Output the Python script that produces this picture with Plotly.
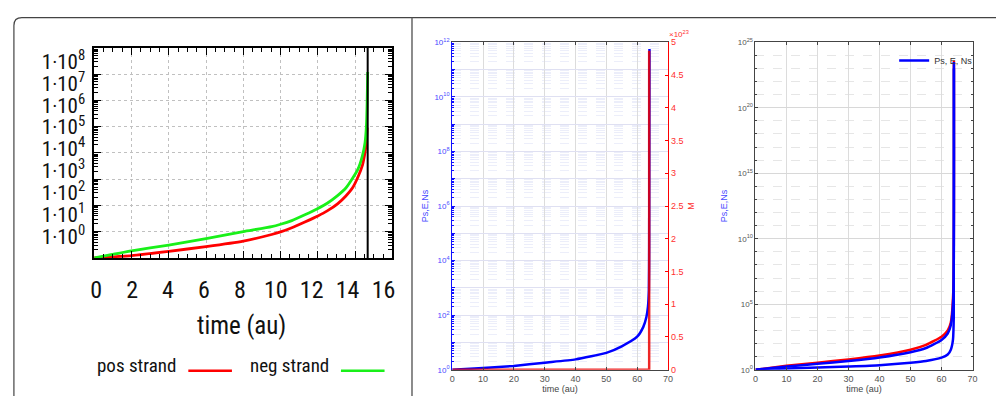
import plotly.graph_objects as go

W, H = 1001, 401

def px(x):
    return x / W

def py(y):
    return 1 - y / H

# ---------------- data ----------------
# left panel (gnuplot): time vs value (log10 of value)
left_t_pos = [0, 2, 4, 6, 8, 9.52, 10, 10.6, 11.3, 12, 12.5, 13.07, 13.5, 13.86,
              14.16, 14.39, 14.53, 14.6, 14.64]
left_pos_log10 = [0, 0.09, 0.25, 0.43, 0.64, 0.89, 0.99, 1.15, 1.37, 1.60, 1.79, 2.07,
                  2.36, 2.67, 3.10, 3.53, 4.03, 4.41, 4.96]
left_t_neg = [0, 2, 4, 6, 8, 9.52, 10, 10.6, 11.3, 12, 12.5, 13.07, 13.5, 13.86,
              14.16, 14.39, 14.53, 14.6, 14.64, 14.67]
left_neg_log10 = [0, 0.27, 0.49, 0.73, 1.0, 1.19, 1.28, 1.42, 1.64, 1.88, 2.08, 2.38,
                  2.66, 3.03, 3.40, 3.90, 4.40, 5.0, 5.9, 7.08]
left_asymptote_t = 14.67
left_xticks = [0, 2, 4, 6, 8, 10, 12, 14, 16]
left_yexp = [0, 1, 2, 3, 4, 5, 6, 7, 8]

# middle panel (MATLAB, two y axes)
mid_t = [0, 10, 20, 30, 40, 50, 55, 60, 62, 63, 63.5, 63.8, 63.9, 64.0]
mid_ps_log10 = [0, 0.06, 0.14, 0.26, 0.38, 0.62, 0.86, 1.21, 1.57, 1.93, 2.3, 2.9, 4.5, 11.75]
mid_m_t = [0, 63.9, 63.9]
mid_m_e23 = [0, 0, 4.87]

# right panel (MATLAB)
right_t = [0, 10, 20, 30, 40, 50, 55, 60, 62, 63, 63.8, 64.0]
right_red_log10 = [0, 0.3, 0.54, 0.79, 1.09, 1.53, 1.9, 2.52, 3.0, 3.6, 6.0, 23.6]
right_blue1_log10 = [0, 0.25, 0.45, 0.67, 0.94, 1.34, 1.66, 2.28, 2.77, 3.4, 5.5, 23.5]
right_t_low = [0, 10, 20, 30, 40, 50, 55, 60, 62, 63, 63.7, 63.95, 64.0]
right_blue2_log10 = [0, 0.1, 0.17, 0.25, 0.35, 0.54, 0.67, 0.92, 1.16, 1.53, 2.3, 4.0, 23.0]

NARROW = ("Liberation Sans Narrow, Roboto Condensed, DejaVu Sans Condensed, "
          "Liberation Sans, sans-serif")
SANS = "Liberation Sans, Arial, Helvetica, sans-serif"

def pw(v):
    return [10.0 ** e for e in v]

SMOOTH = dict(shape="spline", smoothing=0.5)

fig = go.Figure()

# ---------------- left panel ----------------
fig.add_trace(go.Scatter(x=left_t_pos, y=pw(left_pos_log10), mode="lines",
                         line=dict(color="#ff0000", width=2.8, **SMOOTH), xaxis="x", yaxis="y",
                         showlegend=False, name="pos strand"))
fig.add_trace(go.Scatter(x=left_t_neg, y=pw(left_neg_log10), mode="lines",
                         line=dict(color="#19f019", width=2.8, **SMOOTH), xaxis="x", yaxis="y",
                         showlegend=False, name="neg strand"))
fig.add_trace(go.Scatter(x=[left_asymptote_t, left_asymptote_t], y=[1.0, 1e8], mode="lines",
                         line=dict(color="black", width=2), xaxis="x", yaxis="y",
                         showlegend=False))
# dummy traces for label axes
fig.add_trace(go.Scatter(x=[None], y=[None], xaxis="x2", yaxis="y", showlegend=False, hoverinfo="skip"))
fig.add_trace(go.Scatter(x=[None], y=[None], xaxis="x", yaxis="y2", showlegend=False, hoverinfo="skip"))

# ---------------- middle panel ----------------
fig.add_trace(go.Scatter(x=mid_t, y=pw(mid_ps_log10), mode="lines",
                         line=dict(color="#0000ff", width=2.5, **SMOOTH), xaxis="x3", yaxis="y3",
                         showlegend=False))
fig.add_trace(go.Scatter(x=mid_m_t, y=mid_m_e23, mode="lines",
                         line=dict(color="rgba(235,0,0,0.85)", width=2.5), xaxis="x3", yaxis="y4",
                         showlegend=False))

# ---------------- right panel ----------------
fig.add_trace(go.Scatter(x=right_t, y=pw(right_red_log10), mode="lines",
                         line=dict(color="#ff0000", width=2.5, **SMOOTH), xaxis="x4", yaxis="y5",
                         showlegend=False))
fig.add_trace(go.Scatter(x=right_t, y=pw(right_blue1_log10), mode="lines",
                         line=dict(color="#0000ff", width=2.5, **SMOOTH), xaxis="x4", yaxis="y5",
                         name="Ps, E, Ns", showlegend=True))
fig.add_trace(go.Scatter(x=right_t_low, y=pw(right_blue2_log10), mode="lines",
                         line=dict(color="#0000ff", width=2.5, **SMOOTH), xaxis="x4", yaxis="y5",
                         showlegend=False))

left_xdom = [px(91), px(392)]
left_ydom = [py(259), py(43)]
mat_ydom = [py(374), py(37.3)]
mid_xdom = [px(452.3), px(670)]
right_xdom = [px(758.3), px(977.3)]

grid_dot = dict(showgrid=True, gridcolor="#c0c0c0", griddash="dot", gridwidth=1)

fig.update_layout(
    width=W, height=H, autosize=False,
    margin=dict(l=0, r=0, t=0, b=0),
    paper_bgcolor="white", plot_bgcolor="white",
    showlegend=True,
    # left panel main axes
    xaxis=dict(domain=left_xdom, anchor="y", range=[0, 16], dtick=2, tick0=0,
               showticklabels=False, showline=True, linecolor="black", linewidth=2,
               mirror="ticks", ticks="inside", ticklen=7, tickwidth=1.3, tickcolor="black",
               zeroline=False, minor=dict(dtick=0.5, ticks="inside", ticklen=4,
                                          tickcolor="black", showgrid=False),
               **grid_dot),
    yaxis=dict(domain=left_ydom, anchor="x", type="log", range=[0, 8], dtick=1,
               showticklabels=False, showline=True, linecolor="black", linewidth=2,
               mirror="ticks", ticks="inside", ticklen=7, tickwidth=1.3, tickcolor="black",
               zeroline=False, minor=dict(dtick="D1", ticks="inside", ticklen=4,
                                          tickcolor="black", showgrid=False),
               **grid_dot),
    # left panel label axes
    xaxis2=dict(overlaying="x", anchor="y", side="bottom", range=[-0.11, 16.5],
                tickvals=left_xticks, ticktext=[str(v) for v in left_xticks],
                showgrid=False, showline=False, zeroline=False, ticks="",
                ticklabelstandoff=15,
                tickfont=dict(family=NARROW, size=24, color="#111")),
    yaxis2=dict(overlaying="y", anchor="free", position=px(82), side="left",
                range=[-0.98, 8.62],
                tickvals=left_yexp, ticktext=[f"1·10<sup>{k}</sup>" for k in left_yexp],
                showgrid=False, showline=False, zeroline=False, ticks="",
                tickfont=dict(family=NARROW, size=21, color="#111")),
    # middle panel
    xaxis3=dict(domain=mid_xdom, anchor="y3", range=[0, 70], dtick=10, tick0=0,
                showline=True, linecolor="#444", linewidth=1, mirror="ticks",
                ticks="inside", ticklen=3, tickcolor="#444", zeroline=False,
                showgrid=True, gridcolor="#dcdcdc", gridwidth=1,
                tickfont=dict(family=SANS, size=9, color="#555"),
                title=dict(text="time (au)", standoff=3,
                           font=dict(family=SANS, size=9, color="#444"))),
    yaxis3=dict(domain=mat_ydom, anchor="x3", type="log", range=[0, 12],
                tickvals=[10.0 ** k for k in range(13)],
                ticktext=[f"10<sup>{k}</sup>" if k % 2 == 0 else " " for k in range(13)],
                showline=True, linecolor="#1010ff", linewidth=1.2,
                ticks="inside", ticklen=3, tickcolor="#1010ff", zeroline=False,
                showgrid=True, gridcolor="#dfe0f2", gridwidth=1,
                minor=dict(dtick="D1", ticks="inside", ticklen=2, tickcolor="#1010ff",
                           showgrid=True, gridcolor="#eceefa", griddash="dash"),
                tickfont=dict(family=SANS, size=8, color="#4848ff"),
                title=dict(text="Ps,E,Ns", standoff=4,
                           font=dict(family=SANS, size=9, color="#4848ff"))),
    yaxis4=dict(overlaying="y3", anchor="x3", side="right", range=[0, 5], dtick=0.5,
                tick0=0, showline=True, linecolor="#ff0000", linewidth=1.2,
                ticks="inside", ticklen=3, tickcolor="#ff0000", zeroline=False,
                showgrid=False,
                tickfont=dict(family=SANS, size=9, color="#ff3030"),
                title=dict(text="M", standoff=5,
                           font=dict(family=SANS, size=9, color="#ff3030"))),
    # right panel
    xaxis4=dict(domain=right_xdom, anchor="y5", range=[0, 70], dtick=10, tick0=0,
                showline=True, linecolor="#444", linewidth=1, mirror="ticks",
                ticks="inside", ticklen=3, tickcolor="#444", zeroline=False,
                showgrid=True, gridcolor="#dcdcdc", gridwidth=1,
                tickfont=dict(family=SANS, size=9, color="#555"),
                title=dict(text="time (au)", standoff=3,
                           font=dict(family=SANS, size=9, color="#444"))),
    yaxis5=dict(domain=mat_ydom, anchor="x4", type="log", range=[0, 25],
                tickvals=[10.0 ** k for k in range(0, 26, 5)],
                ticktext=[f"10<sup>{k}</sup>" for k in range(0, 26, 5)],
                showline=True, linecolor="#444", linewidth=1, mirror="ticks",
                ticks="inside", ticklen=3, tickcolor="#444", zeroline=False,
                showgrid=True, gridcolor="#d8d8d8", gridwidth=1,
                minor=dict(dtick=1, ticks="inside", ticklen=2, tickcolor="#444",
                           showgrid=True, gridcolor="#e6e6e6", griddash="dash"),
                tickfont=dict(family=SANS, size=8, color="#555"),
                title=dict(text="Ps,E,Ns", standoff=8,
                           font=dict(family=SANS, size=9, color="#4848ff"))),
    legend=dict(x=px(983), y=py(41), xanchor="right", yanchor="top",
                bgcolor="rgba(255,255,255,0)", borderwidth=0,
                font=dict(family=SANS, size=9, color="#333"),
                itemwidth=30, tracegroupgap=0),
)

# annotations
fig.add_annotation(x=px(240), y=py(328), xref="paper", yref="paper",
                   xanchor="center", yanchor="middle",
                   text="time (au)", showarrow=False,
                   font=dict(family=NARROW, size=25, color="#111"))
fig.add_annotation(x=px(176), y=py(370), xref="paper", yref="paper",
                   xanchor="right", yanchor="middle",
                   text="pos strand", showarrow=False,
                   font=dict(family=NARROW, size=19, color="#111"))
fig.add_annotation(x=px(330), y=py(370), xref="paper", yref="paper",
                   xanchor="right", yanchor="middle",
                   text="neg strand", showarrow=False,
                   font=dict(family=NARROW, size=19, color="#111"))
fig.add_annotation(x=px(669), y=py(29), xref="paper", yref="paper",
                   xanchor="left", yanchor="middle",
                   text="×10<sup>23</sup>", showarrow=False,
                   font=dict(family=SANS, size=8, color="#ff3030"))

# legend samples for left panel
fig.add_shape(type="line", xref="paper", yref="paper", x0=px(186), x1=px(230),
              y0=py(375), y1=py(375), line=dict(color="#ff0000", width=2.5))
fig.add_shape(type="line", xref="paper", yref="paper", x0=px(340), x1=px(384),
              y0=py(375), y1=py(375), line=dict(color="#19f019", width=2.5))

# frame: rounded box for left panel, top rule, divider
r = 8
path = (f"M {px(10)},{py(401)} L {px(10)},{py(12 + r)} "
        f"Q {px(10)},{py(12)} {px(10 + r)},{py(12)} L {px(1001)},{py(12)}")
fig.add_shape(type="path", xref="paper", yref="paper", path=path,
              line=dict(color="#444", width=1.2))
fig.add_shape(type="line", xref="paper", yref="paper", x0=px(411.7), x1=px(411.7),
              y0=py(12), y1=py(401), line=dict(color="#666", width=1.5))

fig.write_html("out.html",
               config={"displayModeBar": False},
               post_script="document.body.style.margin='0';document.body.style.padding='0';"
                           "document.body.style.overflow='hidden';")
